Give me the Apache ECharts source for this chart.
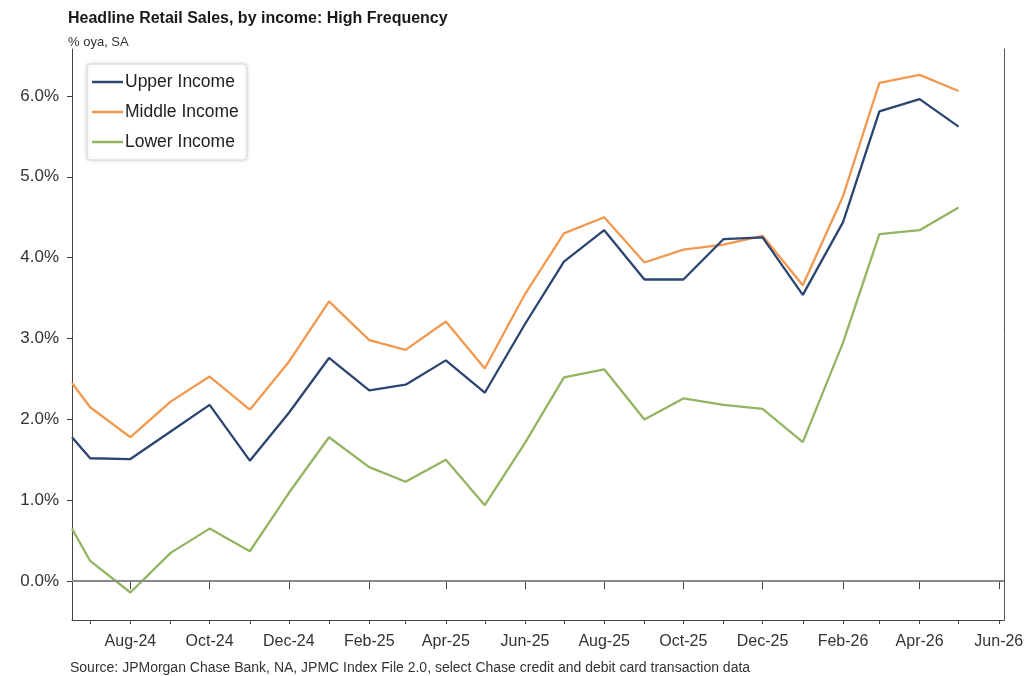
<!DOCTYPE html>
<html>
<head>
<meta charset="utf-8">
<script src="https://cdn.jsdelivr.net/npm/echarts@6/dist/echarts.min.js"></script>
<style>
html,body{margin:0;padding:0;background:#fff;}
#c{width:1028px;height:676px;}
</style>
</head>
<body>
<div id="c"></div>
<script>
// ---- data ----
const dates = ['2024-06-17','2024-07-01','2024-08-01','2024-09-01','2024-10-01','2024-11-01','2024-12-01',
  '2025-01-01','2025-02-01','2025-03-01','2025-04-01','2025-05-01','2025-06-01','2025-07-01','2025-08-01',
  '2025-09-01','2025-10-01','2025-11-01','2025-12-01','2026-01-01','2026-02-01','2026-03-01','2026-04-01','2026-05-01'];
const upperIncome  = [1.78,1.52,1.51,1.85,2.18,1.49,2.08,2.76,2.36,2.43,2.73,2.33,3.18,3.95,4.34,3.73,3.73,4.23,4.25,3.54,4.44,5.81,5.96,5.62];
const middleIncome = [2.45,2.15,1.78,2.22,2.53,2.12,2.71,3.46,2.98,2.86,3.21,2.63,3.55,4.30,4.50,3.94,4.10,4.16,4.27,3.66,4.76,6.16,6.26,6.06];
const lowerIncome  = [0.65,0.25,-0.14,0.35,0.65,0.37,1.09,1.78,1.41,1.23,1.50,0.94,1.71,2.52,2.62,2.00,2.26,2.18,2.13,1.72,2.95,4.29,4.34,4.62];
const seriesNames = ['Upper Income','Middle Income','Lower Income'];
const yTicks = [0,1,2,3,4,5,6];
const xLabels = ['Aug-24','Oct-24','Dec-24','Feb-25','Apr-25','Jun-25','Aug-25','Oct-25','Dec-25','Feb-26','Apr-26','Jun-26'];
const xMinorTicks = ['Jul-24','Aug-24','Sep-24','Oct-24','Nov-24','Dec-24','Jan-25','Feb-25','Mar-25','Apr-25','May-25','Jun-25',
  'Jul-25','Aug-25','Sep-25','Oct-25','Nov-25','Dec-25','Jan-26','Feb-26','Mar-26','Apr-26','May-26','Jun-26'];
const xRange = ['2024-06-17','2026-06-05'];
const yRange = [-0.48, 6.58];

// ---- helpers ----
const MON = ['Jan','Feb','Mar','Apr','May','Jun','Jul','Aug','Sep','Oct','Nov','Dec'];
function ts(s){ const p = s.split('-').map(Number); return Date.UTC(p[0], p[1]-1, p[2]); }
function monTs(lbl){ const [m,y] = lbl.split('-'); return Date.UTC(2000+Number(y), MON.indexOf(m), 1); }
function fmtMon(v){ const d = new Date(v); return MON[d.getUTCMonth()] + '-' + String(d.getUTCFullYear()).slice(2); }
const xs = dates.map(ts);
const FONT = "'Liberation Sans Narrow','Arial Narrow','Liberation Sans',Arial,sans-serif";
const colors = ['#2B4572','#F2984F','#93B561'];

const chart = echarts.init(document.getElementById('c'), null, {renderer:'canvas'});
const xCommon = {
  type:'value', min: ts(xRange[0]), max: ts(xRange[1]),
  splitLine:{show:false}, gridIndex:0, position:'bottom'
};
const option = {
  animation:false,
  backgroundColor:'#fff',
  color: colors,
  title:[
    {text:'Headline Retail Sales, by income: High Frequency', left:68, top:11, padding:0,
     textStyle:{fontFamily:FONT, fontSize:16, fontWeight:'bold', color:'#1a1a1a'}},
    {text:'% oya, SA', left:68, top:36, padding:0, textStyle:{fontFamily:FONT, fontSize:13, fontWeight:'normal', color:'#333'}},
    {text:'Source: JPMorgan Chase Bank, NA, JPMC Index File 2.0, select Chase credit and debit card transaction data',
     left:70, top:661, padding:0, textStyle:{fontFamily:FONT, fontSize:14, fontWeight:'normal', color:'#333'}}
  ],
  legend:{
    orient:'vertical', left:87, top:64, data:seriesNames,
    icon:'rect', itemWidth:31, itemHeight:2.5, itemGap:10,
    padding:[8,8,8,5], borderColor:'#d6d6d6', borderWidth:1, borderRadius:3,
    backgroundColor:'#fff', shadowColor:'rgba(0,0,0,0.15)', shadowBlur:4,
    textStyle:{fontFamily:FONT, fontSize:17.5, color:'#222', lineHeight:20, padding:[0,0,0,-3]}
  },
  grid:{left:72, right:24, top:49, bottom:56, containLabel:false},
  xAxis:[
    Object.assign({}, xCommon, {
      axisLine:{show:true, onZero:false, lineStyle:{color:'#444', width:1}},
      axisTick:{show:true, customValues: xMinorTicks.map(monTs), length:4, inside:false, lineStyle:{color:'#444'}},
      axisLabel:{show:true, customValues: xLabels.map(monTs), formatter: v => fmtMon(v),
        fontFamily:FONT, fontSize:16, color:'#333', margin:14}
    }),
    Object.assign({}, xCommon, {
      axisLine:{show:false},
      axisTick:{show:true, customValues: xLabels.map(monTs), length:8, lineStyle:{color:'#444'}},
      axisLabel:{show:false}
    })
  ],
  yAxis:[
    {type:'value', min:yRange[0], max:yRange[1], position:'left',
     splitLine:{show:false},
     axisLine:{show:true, onZero:false, lineStyle:{color:'#444', width:1}},
     axisTick:{show:true, customValues: yTicks, length:5, lineStyle:{color:'#444'}},
     axisLabel:{customValues: yTicks, formatter: v => v.toFixed(1)+'%', fontFamily:FONT, fontSize:17, color:'#333', margin:13}
    },
    {type:'value', min:yRange[0], max:yRange[1], position:'right',
     splitLine:{show:false},
     axisLine:{show:true, onZero:false, lineStyle:{color:'#555', width:1}},
     axisTick:{show:false}, axisLabel:{show:false}
    }
  ],
  series:[
    {name:seriesNames[0], type:'line', data: xs.map((x,i)=>[x, upperIncome[i]]), symbol:'none', lineStyle:{width:2.3}, z:4},
    {name:seriesNames[1], type:'line', data: xs.map((x,i)=>[x, middleIncome[i]]), symbol:'none', lineStyle:{width:2.3}, z:3},
    {name:seriesNames[2], type:'line', data: xs.map((x,i)=>[x, lowerIncome[i]]), symbol:'none', lineStyle:{width:2.3}, z:2,
     markLine:{silent:true, symbol:'none', label:{show:false}, lineStyle:{color:'#8a8a8a', width:2, type:'solid'},
       data:[{yAxis:0}]}}
  ]
};
chart.setOption(option);
</script>
</body>
</html>
